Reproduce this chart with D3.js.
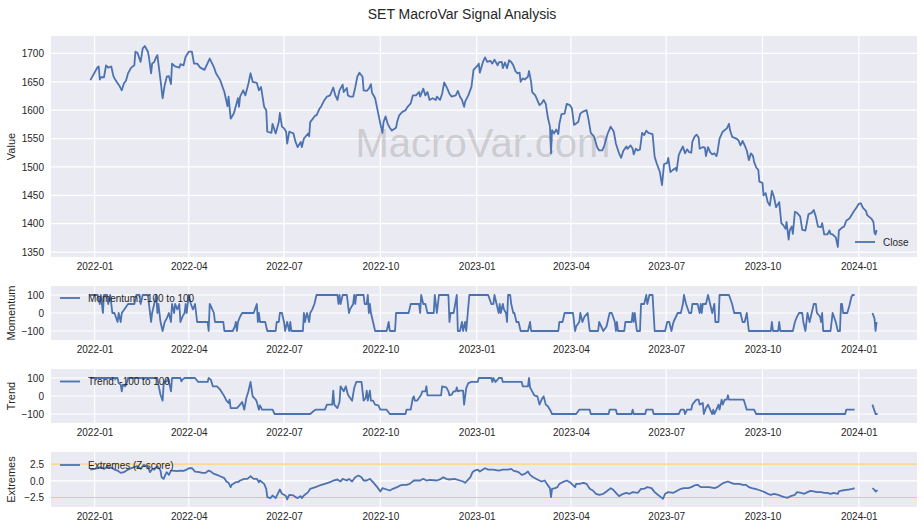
<!DOCTYPE html>
<html><head><meta charset="utf-8">
<script src="https://cdn.jsdelivr.net/npm/d3@7"></script>
<style>body{margin:0;background:#fff}svg{display:block}</style>
</head><body><svg id="c" width="924" height="530"></svg>
<script>
// ---------------- DATA ----------------
const chartTitle = "SET MacroVar Signal Analysis";
const watermark = "MacroVar.com";

const closeSeries = [
["2021-12-28",1653],["2022-01-04",1676],["2022-01-05",1677],["2022-01-06",1654],["2022-01-07",1658],["2022-01-10",1658],["2022-01-12",1679],["2022-01-14",1675],["2022-01-17",1677],["2022-01-19",1660],["2022-01-21",1653],["2022-01-25",1642],["2022-01-27",1635],["2022-01-29",1647],["2022-01-31",1652],["2022-02-02",1665],["2022-02-05",1675],["2022-02-08",1679],["2022-02-09",1703],["2022-02-11",1701],["2022-02-14",1685],["2022-02-16",1709],["2022-02-18",1713],["2022-02-21",1703],["2022-02-22",1693],["2022-02-24",1665],["2022-02-25",1682],["2022-02-27",1685],["2022-03-01",1694],["2022-03-02",1697],["2022-03-03",1682],["2022-03-05",1653],["2022-03-07",1621],["2022-03-09",1644],["2022-03-11",1659],["2022-03-13",1660],["2022-03-15",1646],["2022-03-16",1682],["2022-03-19",1677],["2022-03-23",1675],["2022-03-24",1681],["2022-03-27",1679],["2022-03-29",1694],["2022-04-01",1703],["2022-04-04",1703],["2022-04-06",1682],["2022-04-09",1682],["2022-04-12",1675],["2022-04-16",1671],["2022-04-21",1691],["2022-04-25",1676],["2022-04-27",1665],["2022-05-01",1653],["2022-05-05",1632],["2022-05-08",1607],["2022-05-09",1624],["2022-05-11",1585],["2022-05-14",1594],["2022-05-18",1621],["2022-05-19",1606],["2022-05-20",1624],["2022-05-23",1635],["2022-05-25",1626],["2022-05-28",1647],["2022-05-30",1665],["2022-06-01",1650],["2022-06-05",1648],["2022-06-07",1635],["2022-06-09",1641],["2022-06-12",1606],["2022-06-14",1600],["2022-06-15",1562],["2022-06-19",1560],["2022-06-20",1576],["2022-06-23",1559],["2022-06-26",1579],["2022-06-27",1595],["2022-06-29",1571],["2022-07-01",1568],["2022-07-03",1562],["2022-07-04",1541],["2022-07-06",1562],["2022-07-10",1559],["2022-07-12",1544],["2022-07-14",1535],["2022-07-17",1544],["2022-07-18",1535],["2022-07-20",1550],["2022-07-24",1559],["2022-07-25",1554],["2022-07-26",1579],["2022-07-31",1591],["2022-08-01",1591],["2022-08-04",1603],
["2022-08-05",1605],["2022-08-08",1616],["2022-08-11",1624],["2022-08-14",1626],["2022-08-17",1640],["2022-08-19",1626],["2022-08-21",1618],["2022-08-23",1635],["2022-08-26",1645],["2022-08-27",1632],["2022-08-30",1639],["2022-08-31",1626],["2022-09-02",1624],["2022-09-05",1624],["2022-09-07",1640],["2022-09-09",1659],["2022-09-11",1666],["2022-09-14",1659],["2022-09-15",1635],["2022-09-18",1634],["2022-09-20",1638],["2022-09-22",1646],["2022-09-23",1631],["2022-09-26",1621],["2022-09-29",1594],["2022-10-01",1576],["2022-10-03",1560],["2022-10-04",1579],["2022-10-06",1589],["2022-10-08",1576],["2022-10-10",1569],["2022-10-12",1564],["2022-10-16",1569],["2022-10-17",1579],["2022-10-19",1591],["2022-10-22",1597],["2022-10-25",1600],["2022-10-27",1606],["2022-10-30",1612],["2022-11-01",1626],["2022-11-04",1626],["2022-11-07",1632],["2022-11-08",1624],["2022-11-11",1638],["2022-11-13",1626],["2022-11-15",1632],["2022-11-17",1618],["2022-11-20",1621],["2022-11-23",1618],["2022-11-24",1624],["2022-11-27",1618],["2022-11-29",1629],["2022-12-01",1649],["2022-12-04",1638],["2022-12-06",1629],["2022-12-08",1624],["2022-12-12",1626],["2022-12-14",1634],["2022-12-16",1624],["2022-12-18",1618],["2022-12-20",1606],["2022-12-21",1615],["2022-12-24",1626],["2022-12-27",1641],["2022-12-29",1671],
["2023-01-02",1679],["2023-01-03",1682],["2023-01-04",1666],["2023-01-07",1685],["2023-01-09",1693],["2023-01-11",1685],["2023-01-14",1687],["2023-01-16",1682],["2023-01-18",1689],["2023-01-21",1679],["2023-01-22",1684],["2023-01-25",1685],["2023-01-26",1674],["2023-01-28",1684],["2023-01-30",1674],["2023-02-01",1688],["2023-02-03",1685],["2023-02-05",1679],["2023-02-07",1669],["2023-02-09",1665],["2023-02-11",1666],["2023-02-12",1650],["2023-02-14",1656],["2023-02-16",1654],["2023-02-19",1659],["2023-02-20",1669],["2023-02-22",1650],["2023-02-23",1632],["2023-02-26",1626],["2023-03-02",1609],["2023-03-04",1612],["2023-03-06",1618],["2023-03-08",1611],["2023-03-10",1587],["2023-03-12",1571],["2023-03-13",1524],["2023-03-14",1565],["2023-03-16",1559],["2023-03-18",1566],["2023-03-20",1558],["2023-03-21",1576],["2023-03-23",1593],["2023-03-26",1594],["2023-03-28",1611],["2023-03-31",1609],["2023-04-02",1603],["2023-04-04",1574],["2023-04-08",1579],["2023-04-10",1594],["2023-04-12",1597],["2023-04-16",1600],["2023-04-18",1582],["2023-04-20",1560],["2023-04-23",1554],["2023-04-26",1535],["2023-04-28",1529],["2023-05-01",1529],["2023-05-03",1538],["2023-05-06",1558],["2023-05-09",1571],["2023-05-12",1562],["2023-05-14",1541],["2023-05-17",1524],["2023-05-19",1516],["2023-05-21",1528],["2023-05-24",1536],["2023-05-25",1532],["2023-05-28",1538],["2023-05-30",1532],["2023-05-31",1522],["2023-06-02",1532],["2023-06-04",1529],["2023-06-06",1531],["2023-06-08",1560],["2023-06-10",1556],["2023-06-12",1564],["2023-06-14",1560],["2023-06-18",1558],["2023-06-20",1518],["2023-06-22",1506],["2023-06-25",1491],["2023-06-27",1468],["2023-06-29",1505],["2023-07-02",1507],["2023-07-03",1516],["2023-07-05",1491],["2023-07-07",1494],["2023-07-10",1498],["2023-07-11",1493],["2023-07-13",1521],["2023-07-15",1529],["2023-07-17",1536],["2023-07-19",1524],["2023-07-21",1531],["2023-07-23",1526],["2023-07-25",1525],["2023-07-26",1544],["2023-07-28",1553],["2023-07-30",1557],["2023-08-01",1552],["2023-08-02",1532],["2023-08-05",1535],["2023-08-07",1534],["2023-08-08",1519],["2023-08-10",1535],["2023-08-12",1526],["2023-08-14",1522],["2023-08-16",1524],["2023-08-18",1519],["2023-08-19",1526],["2023-08-21",1550],["2023-08-24",1562],["2023-08-26",1565],["2023-08-28",1568],["2023-08-30",1576],["2023-08-31",1565],["2023-09-02",1553],["2023-09-06",1550],["2023-09-08",1547],["2023-09-10",1538],["2023-09-12",1546],["2023-09-14",1538],["2023-09-16",1529],["2023-09-18",1512],["2023-09-20",1524],["2023-09-22",1519],["2023-09-23",1509],["2023-09-25",1499],["2023-09-27",1495],["2023-09-28",1474],["2023-10-01",1472],["2023-10-02",1450],["2023-10-04",1454],["2023-10-06",1438],["2023-10-08",1432],["2023-10-10",1458],["2023-10-12",1447],["2023-10-14",1429],["2023-10-17",1438],["2023-10-19",1401],["2023-10-21",1397],["2023-10-23",1391],["2023-10-24",1403],["2023-10-26",1372],["2023-10-27",1388],["2023-10-29",1395],["2023-10-30",1382],["2023-11-01",1421],["2023-11-03",1419],["2023-11-06",1413],["2023-11-08",1389],["2023-11-11",1388],["2023-11-14",1417],["2023-11-17",1419],["2023-11-19",1424],["2023-11-21",1412],["2023-11-23",1395],["2023-11-26",1394],["2023-11-27",1401],["2023-11-29",1381],["2023-12-02",1381],["2023-12-04",1388],["2023-12-05",1382],["2023-12-07",1381],["2023-12-10",1376],["2023-12-12",1359],["2023-12-13",1388],["2023-12-16",1393],["2023-12-18",1395],["2023-12-20",1405],["2023-12-23",1409],["2023-12-25",1415],["2023-12-27",1421],["2023-12-30",1429],["2024-01-01",1435],["2024-01-03",1436],["2024-01-05",1428],["2024-01-08",1422],["2024-01-09",1415],["2024-01-11",1412],["2024-01-13",1409],["2024-01-15",1403],["2024-01-16",1384],["2024-01-17",1381],["2024-01-18",1389]
];

const momentumSeries = [
["2021-12-28",100],["2022-01-04",100],["2022-01-06",50],["2022-01-07",100],["2022-01-09",0],["2022-01-10",100],["2022-01-13",100],["2022-01-14",50],["2022-01-16",100],["2022-01-18",0],["2022-01-20",0],["2022-01-23",-50],["2022-01-24",0],["2022-01-26",-50],["2022-01-27",0],["2022-01-30",25],["2022-02-02",50],["2022-02-08",50],["2022-02-10",100],["2022-02-13",100],["2022-02-14",50],["2022-02-16",100],["2022-02-21",100],["2022-02-22",50],["2022-02-24",-50],["2022-02-25",0],["2022-02-27",50],["2022-03-01",100],["2022-03-02",0],["2022-03-03",50],["2022-03-05",-50],["2022-03-07",-100],["2022-03-09",-50],["2022-03-11",-30],["2022-03-13",0],["2022-03-15",-50],["2022-03-16",50],["2022-03-18",0],["2022-03-19",50],["2022-03-21",20],["2022-03-23",50],["2022-03-24",-50],["2022-03-26",-20],["2022-03-28",0],["2022-03-29",50],["2022-03-30",0],["2022-04-01",100],["2022-04-03",50],["2022-04-05",20],["2022-04-07",50],["2022-04-09",-50],["2022-04-19",-50],["2022-04-20",-100],["2022-04-21",50],["2022-04-22",40],["2022-04-25",0],["2022-04-26",-50],["2022-05-04",-50],["2022-05-05",-100],["2022-05-13",-100],["2022-05-15",-75],["2022-05-16",-50],["2022-05-17",-100],["2022-05-18",-50],["2022-05-20",-20],["2022-05-22",0],["2022-06-02",0],["2022-06-05",50],["2022-06-06",-50],["2022-06-07",0],["2022-06-08",-50],["2022-06-13",-50],["2022-06-15",-100],["2022-06-23",-100],["2022-06-24",-50],["2022-06-26",-50],["2022-06-27",0],["2022-06-29",0],["2022-07-01",-50],["2022-07-02",-100],["2022-07-03",-75],["2022-07-04",-50],["2022-07-06",-100],["2022-07-07",-50],["2022-07-08",-100],["2022-07-19",-100],["2022-07-20",0],["2022-07-21",-50],["2022-07-22",-20],["2022-07-23",0],["2022-07-25",-50],["2022-07-26",0],["2022-07-28",20],["2022-07-30",50],["2022-08-01",100],["2022-08-21",100],["2022-08-22",50],["2022-08-23",100],["2022-08-24",50],["2022-08-26",100],["2022-08-30",100],["2022-09-01",0],["2022-09-02",20],["2022-09-05",50],["2022-09-06",100],["2022-09-07",50],["2022-09-08",100],["2022-09-15",100],["2022-09-16",50],["2022-09-18",50],["2022-09-19",100],["2022-09-20",0],["2022-09-21",50],["2022-09-22",0],["2022-09-24",-50],["2022-09-26",-100],["2022-10-07",-100],["2022-10-09",-50],["2022-10-10",-100],["2022-10-15",-100],["2022-10-16",0],["2022-10-28",0],["2022-10-30",50],["2022-11-07",50],["2022-11-08",0],["2022-11-09",100],["2022-11-11",50],["2022-11-13",50],["2022-11-15",0],["2022-11-21",0],["2022-11-22",100],["2022-11-24",0],["2022-11-26",100],["2022-12-05",100],["2022-12-06",-50],["2022-12-07",0],["2022-12-10",0],["2022-12-13",100],["2022-12-14",-100],["2022-12-16",-100],["2022-12-18",-50],["2022-12-19",-100],["2022-12-21",-50],["2022-12-22",-100],["2022-12-25",100],["2023-01-12",100],["2023-01-15",50],["2023-01-17",50],["2023-01-18",100],["2023-01-20",50],["2023-01-22",0],["2023-01-23",50],["2023-01-24",0],["2023-01-26",50],["2023-01-27",20],["2023-01-29",0],["2023-01-30",-50],["2023-01-31",100],["2023-02-02",100],["2023-02-03",50],["2023-02-05",0],["2023-02-06",0],["2023-02-08",-50],["2023-02-10",-50],["2023-02-12",-100],["2023-02-19",-100],["2023-02-21",-50],["2023-02-22",-100],["2023-03-20",-100],["2023-03-21",-50],["2023-03-24",-50],["2023-03-26",0],["2023-04-03",0],["2023-04-05",-100],["2023-04-06",-75],["2023-04-09",-50],["2023-04-10",0],["2023-04-12",-50],["2023-04-14",-20],["2023-04-17",0],["2023-04-19",-100],["2023-04-27",-100],["2023-04-28",-50],["2023-04-30",-75],["2023-05-02",-100],["2023-05-05",-75],["2023-05-08",0],["2023-05-10",0],["2023-05-13",-50],["2023-05-14",-100],["2023-05-15",-50],["2023-05-16",-100],["2023-05-22",-100],["2023-05-23",-50],["2023-05-29",-50],["2023-05-30",0],["2023-05-31",-50],["2023-06-01",0],["2023-06-02",-50],["2023-06-03",-100],["2023-06-06",-100],["2023-06-07",50],["2023-06-10",50],["2023-06-11",75],["2023-06-12",100],["2023-06-13",50],["2023-06-15",100],["2023-06-18",100],["2023-06-20",-100],["2023-06-30",-100],["2023-07-02",-50],["2023-07-04",-50],["2023-07-06",-100],["2023-07-08",-50],["2023-07-12",0],["2023-07-15",0],["2023-07-17",50],["2023-07-18",100],["2023-07-20",50],["2023-07-23",0],["2023-07-25",0],["2023-07-26",50],["2023-07-31",50],["2023-08-02",0],["2023-08-03",50],["2023-08-04",0],["2023-08-05",50],["2023-08-08",50],["2023-08-10",100],["2023-08-12",50],["2023-08-14",0],["2023-08-16",50],["2023-08-17",-50],["2023-08-20",-50],["2023-08-21",100],["2023-08-30",100],["2023-09-02",50],["2023-09-04",0],["2023-09-10",0],["2023-09-12",-50],["2023-09-14",-50],["2023-09-16",0],["2023-09-18",-100],["2023-10-09",-100],["2023-10-10",-50],["2023-10-11",-100],["2023-10-16",-100],["2023-10-17",-50],["2023-10-18",-100],["2023-10-30",-100],["2023-11-01",-50],["2023-11-03",-20],["2023-11-05",0],["2023-11-08",0],["2023-11-09",-50],["2023-11-11",-100],["2023-11-13",0],["2023-11-15",-50],["2023-11-17",0],["2023-11-19",50],["2023-11-21",50],["2023-11-22",0],["2023-11-25",-20],["2023-11-26",-50],["2023-11-27",0],["2023-11-28",-100],["2023-12-05",-100],["2023-12-07",0],["2023-12-10",-50],["2023-12-12",-100],["2023-12-14",-100],["2023-12-15",50],["2023-12-16",50],["2023-12-17",0],["2023-12-21",0],["2023-12-23",40],["2023-12-25",90],["2023-12-26",100],["2023-12-28",100],["2024-01-05",null],["2024-01-14",0],["2024-01-16",-30],["2024-01-17",-100],["2024-01-18",-50]
];

const trendSeries = [
["2021-12-28",100],["2022-01-23",100],["2022-01-24",72],["2022-01-26",63],["2022-01-27",26],["2022-01-28",63],["2022-01-30",54],["2022-01-31",59],["2022-02-02",100],["2022-03-02",100],["2022-03-03",63],["2022-03-05",7],["2022-03-07",-26],["2022-03-08",63],["2022-03-09",81],["2022-03-11",81],["2022-03-12",100],["2022-03-13",81],["2022-03-15",26],["2022-03-16",100],["2022-03-24",100],["2022-03-25",81],["2022-03-26",91],["2022-03-28",100],["2022-04-07",100],["2022-04-10",78],["2022-04-19",78],["2022-04-20",100],["2022-04-22",91],["2022-04-24",54],["2022-04-28",54],["2022-05-01",35],["2022-05-05",-2],["2022-05-07",-26],["2022-05-09",-39],["2022-05-10",-20],["2022-05-11",-67],["2022-05-17",-67],["2022-05-20",-48],["2022-05-22",-33],["2022-05-24",-76],["2022-05-26",-11],["2022-05-28",26],["2022-05-30",78],["2022-06-01",-2],["2022-06-04",-20],["2022-06-05",-33],["2022-06-07",-76],["2022-06-08",-52],["2022-06-10",-76],["2022-06-20",-76],["2022-06-22",-100],["2022-07-26",-100],["2022-07-29",-85],["2022-07-31",-76],["2022-08-09",-76],["2022-08-11",-48],["2022-08-16",-48],["2022-08-17",30],["2022-08-18",-48],["2022-08-21",-67],["2022-08-23",-33],["2022-08-24",54],["2022-08-27",26],["2022-08-29",54],["2022-08-31",7],["2022-09-04",-26],["2022-09-06",44],["2022-09-08",78],["2022-09-13",78],["2022-09-15",-26],["2022-09-17",-11],["2022-09-18",30],["2022-09-19",-26],["2022-09-21",30],["2022-09-22",-26],["2022-09-24",-26],["2022-09-26",-48],["2022-09-29",-52],["2022-10-01",-76],["2022-10-07",-76],["2022-10-10",-100],["2022-10-25",-100],["2022-10-26",-76],["2022-10-30",-76],["2022-11-01",-11],["2022-11-02",-2],["2022-11-03",-26],["2022-11-05",-26],["2022-11-09",7],["2022-11-10",26],["2022-11-13",26],["2022-11-14",54],["2022-11-15",4],["2022-11-28",4],["2022-11-29",54],["2022-12-03",48],["2022-12-05",26],["2022-12-06",4],["2022-12-08",7],["2022-12-10",26],["2022-12-12",26],["2022-12-13",48],["2022-12-14",26],["2022-12-16",30],["2022-12-19",30],["2022-12-20",-48],["2022-12-22",44],["2022-12-24",72],["2022-12-27",78],["2023-01-02",78],["2023-01-03",100],["2023-01-15",100],["2023-01-16",78],["2023-01-17",100],["2023-01-19",78],["2023-01-21",91],["2023-01-22",100],["2023-01-25",100],["2023-01-26",78],["2023-02-13",78],["2023-02-14",54],["2023-02-19",54],["2023-02-20",100],["2023-02-21",48],["2023-02-23",26],["2023-02-25",4],["2023-02-28",-2],["2023-03-02",-48],["2023-03-04",-20],["2023-03-06",-2],["2023-03-08",-48],["2023-03-10",-57],["2023-03-12",-76],["2023-03-14",-100],["2023-04-06",-100],["2023-04-09",-76],["2023-04-19",-76],["2023-04-20",-100],["2023-05-07",-100],["2023-05-08",-76],["2023-05-14",-76],["2023-05-15",-100],["2023-05-29",-100],["2023-05-30",-76],["2023-05-31",-100],["2023-06-11",-100],["2023-06-12",-76],["2023-06-18",-76],["2023-06-19",-100],["2023-07-13",-100],["2023-07-15",-76],["2023-07-18",-76],["2023-07-19",-100],["2023-07-21",-76],["2023-07-25",-76],["2023-07-26",-48],["2023-07-28",-33],["2023-07-30",-20],["2023-08-01",-20],["2023-08-02",-48],["2023-08-05",-39],["2023-08-06",-100],["2023-08-08",-67],["2023-08-10",-48],["2023-08-12",-76],["2023-08-14",-100],["2023-08-15",-76],["2023-08-16",-100],["2023-08-18",-76],["2023-08-20",-48],["2023-08-21",-76],["2023-08-23",-20],["2023-08-24",-48],["2023-08-26",-20],["2023-08-28",-20],["2023-08-29",4],["2023-08-30",-20],["2023-09-13",-20],["2023-09-16",-76],["2023-09-23",-76],["2023-09-25",-100],["2023-12-19",-100],["2023-12-20",-76],["2023-12-28",-76],["2024-01-05",null],["2024-01-14",-48],["2024-01-17",-100],["2024-01-19",-100]
];

const extremesSeries = [
["2021-12-28",1.68],["2022-01-01",1.78],["2022-01-04",1.88],["2022-01-07",2.03],["2022-01-10",1.78],["2022-01-13",2.08],["2022-01-17",1.98],["2022-01-20",1.68],["2022-01-23",1.53],["2022-01-26",1.19],["2022-01-29",1.29],["2022-02-02",1.68],["2022-02-05",1.88],["2022-02-08",2.03],["2022-02-11",2.18],["2022-02-14",1.78],["2022-02-17",2.38],["2022-02-21",2.03],["2022-02-23",1.29],["2022-02-25",1.78],["2022-02-27",1.68],["2022-03-02",2.18],["2022-03-05",1.53],["2022-03-06",0.54],["2022-03-08",0.30],["2022-03-10",1.04],["2022-03-11",1.29],["2022-03-13",0.89],["2022-03-15",1.53],["2022-03-16",1.53],["2022-03-21",1.44],["2022-03-24",1.53],["2022-03-27",1.49],["2022-03-30",1.68],["2022-04-01",1.88],["2022-04-04",1.88],["2022-04-07",1.39],["2022-04-11",1.29],["2022-04-14",1.19],["2022-04-17",1.19],["2022-04-20",1.53],["2022-04-22",1.39],["2022-04-25",1.04],["2022-04-28",0.89],["2022-05-01",0.69],["2022-05-05",0.40],["2022-05-07",-0.10],["2022-05-09",-0.30],["2022-05-11",-0.94],["2022-05-12",-0.59],["2022-05-16",-0.20],["2022-05-18",-0.20],["2022-05-20",0.05],["2022-05-24",0.30],["2022-05-27",0.30],["2022-05-30",0.69],["2022-06-02",0.30],["2022-06-05",0.30],["2022-06-07",-0.20],["2022-06-08",0.05],["2022-06-12",-0.45],["2022-06-14",-1.19],["2022-06-15",-2.43],["2022-06-18",-2.57],["2022-06-20",-2.18],["2022-06-23",-2.57],["2022-06-25",-1.93],["2022-06-27",-1.29],["2022-06-29",-1.93],["2022-07-01",-2.08],["2022-07-03",-2.28],["2022-07-04",-2.77],["2022-07-06",-2.08],["2022-07-10",-2.18],["2022-07-12",-2.43],["2022-07-14",-2.57],["2022-07-17",-2.28],["2022-07-18",-2.57],["2022-07-20",-2.18],["2022-07-24",-1.68],["2022-07-26",-1.19],["2022-07-31",-0.94],["2022-08-04",-0.69],["2022-08-09",-0.45],["2022-08-14",-0.20],["2022-08-17",0.05],["2022-08-21",0.20],["2022-08-24",-0.10],["2022-08-26",0.30],["2022-08-30",0.05],["2022-09-01",0.30],["2022-09-04",-0.10],["2022-09-07",0.54],["2022-09-10",0.79],["2022-09-13",0.54],["2022-09-15",0.05],["2022-09-18",0.05],["2022-09-21",0.30],["2022-09-24",-0.20],["2022-09-28",-0.94],["2022-10-01",-1.58],["2022-10-03",-1.09],["2022-10-07",-1.29],["2022-10-10",-1.44],["2022-10-13",-1.19],["2022-10-17",-0.94],["2022-10-20",-0.69],["2022-10-23",-0.59],["2022-10-26",-0.59],["2022-10-29",-0.45],["2022-11-02",0.05],["2022-11-08",0.05],["2022-11-11",0.30],["2022-11-14",0.05],["2022-11-17",0.15],["2022-11-24",0.05],["2022-11-28",0.30],["2022-11-30",0.54],["2022-12-03",0.30],["2022-12-06",0.20],["2022-12-11",0.30],["2022-12-16",0.05],["2022-12-19",-0.10],["2022-12-21",-0.30],["2022-12-23",0.05],["2022-12-26",0.54],["2022-12-28",1.29],["2022-12-30",1.53],["2023-01-02",1.68],["2023-01-04",1.39],["2023-01-07",1.68],["2023-01-09",1.88],["2023-01-12",1.68],["2023-01-17",1.68],["2023-01-22",1.53],["2023-01-26",1.68],["2023-01-31",1.68],["2023-02-03",1.78],["2023-02-05",1.53],["2023-02-10",1.29],["2023-02-13",0.89],["2023-02-16",1.04],["2023-02-19",1.39],["2023-02-21",0.89],["2023-02-24",0.54],["2023-02-28",0.20],["2023-03-04",-0.10],["2023-03-07",0.05],["2023-03-09",-0.45],["2023-03-12",-1.09],["2023-03-13",-2.43],["2023-03-14",-1.19],["2023-03-17",-1.09],["2023-03-19",-0.94],["2023-03-21",-0.45],["2023-03-24",-0.20],["2023-03-28",0.05],["2023-03-31",-0.20],["2023-04-05",-0.94],["2023-04-06",-0.45],["2023-04-09",-0.45],["2023-04-13",-0.30],["2023-04-16",-0.45],["2023-04-19",-1.19],["2023-04-22",-1.44],["2023-04-25",-1.93],["2023-04-28",-2.08],["2023-05-02",-1.93],["2023-05-05",-1.58],["2023-05-09",-1.09],["2023-05-11",-1.29],["2023-05-14",-1.78],["2023-05-17",-2.28],["2023-05-21",-1.93],["2023-05-24",-1.78],["2023-05-27",-1.93],["2023-05-30",-1.68],["2023-06-04",-1.78],["2023-06-07",-1.19],["2023-06-10",-1.19],["2023-06-13",-0.94],["2023-06-17",-1.09],["2023-06-20",-1.68],["2023-06-23",-2.08],["2023-06-26",-2.43],["2023-06-28",-2.67],["2023-06-30",-1.93],["2023-07-03",-1.68],["2023-07-08",-1.78],["2023-07-12",-1.44],["2023-07-15",-1.19],["2023-07-18",-1.09],["2023-07-22",-1.09],["2023-07-25",-0.94],["2023-07-28",-0.69],["2023-07-31",-0.59],["2023-08-03",-0.94],["2023-08-06",-0.94],["2023-08-11",-0.94],["2023-08-16",-1.09],["2023-08-19",-0.94],["2023-08-22",-0.59],["2023-08-25",-0.30],["2023-08-29",-0.10],["2023-09-01",-0.30],["2023-09-04",-0.45],["2023-09-09",-0.45],["2023-09-12",-0.59],["2023-09-15",-0.59],["2023-09-18",-0.94],["2023-09-21",-1.09],["2023-09-26",-1.29],["2023-09-29",-1.44],["2023-10-03",-1.68],["2023-10-06",-1.93],["2023-10-09",-2.08],["2023-10-12",-1.93],["2023-10-16",-2.08],["2023-10-19",-2.28],["2023-10-22",-2.43],["2023-10-25",-2.52],["2023-10-28",-2.28],["2023-11-01",-2.08],["2023-11-03",-1.68],["2023-11-07",-1.78],["2023-11-10",-1.93],["2023-11-13",-1.68],["2023-11-16",-1.49],["2023-11-19",-1.58],["2023-11-22",-1.68],["2023-11-26",-1.68],["2023-11-29",-1.78],["2023-12-02",-1.78],["2023-12-05",-1.93],["2023-12-08",-1.78],["2023-12-12",-1.93],["2023-12-13",-1.58],["2023-12-16",-1.44],["2023-12-20",-1.34],["2023-12-23",-1.29],["2023-12-26",-1.19],["2023-12-28",-1.09],["2024-01-05",null],["2024-01-14",-1.09],["2024-01-16",-1.34],["2024-01-17",-1.58],["2024-01-19",-1.39]
];

const xTickLabels = ["2022-01","2022-04","2022-07","2022-10","2023-01","2023-04","2023-07","2023-10","2024-01"];
const closeTicks = [1350,1400,1450,1500,1550,1600,1650,1700];
const signalTicks = [-100,0,100];
const signalRange = [-150,150];
const extremeTicks = [-2.5,0,2.5];
const extremeRange = [-3.9,4.3];
const extremeThresholds = [2.5,-2.5];

// ---------------- CHART ----------------
const FONT = "'Liberation Sans', Arial, 'DejaVu Sans', sans-serif";
const TXT = "#262626";
const BLUE = "#4C72B0";
const BG = "#EAEAF2";
const svg = d3.select("#c");
const parse = d3.timeParse("%Y-%m-%d");
const parseM = d3.timeParse("%Y-%m");
const toPts = s => s.map(([d,v]) => ({d: parse(d), v}));

const closePts = toPts(closeSeries), momPts = toPts(momentumSeries),
      trendPts = toPts(trendSeries), extPts = toPts(extremesSeries);

const allDates = [closePts, momPts, trendPts, extPts].flat().map(p => p.d);
const [d0, d1] = d3.extent(allDates);
const span = d1 - d0;
const L = 51, R = 917;
const x = d3.scaleTime().domain([new Date(+d0 - span*0.05), new Date(+d1 + span*0.05)]).range([L, R]);
const xTicks = xTickLabels.map(parseM);

const cExt = d3.extent(closePts, p => p.v);
const cPad = (cExt[1]-cExt[0])*0.05;

const panels = [
  {pts: closePts, top: 36, bottom: 257, domain: [cExt[0]-cPad, cExt[1]+cPad], ticks: closeTicks, fmt: d3.format("d"), label: "Value",
   legend: {name: "Close", x: 855, y: 242}},
  {pts: momPts, top: 286, bottom: 340, domain: signalRange, ticks: signalTicks, fmt: d3.format("d"), label: "Momentum",
   legend: {name: "Momentum: -100 to 100", x: 60, y: 298}},
  {pts: trendPts, top: 369, bottom: 423, domain: signalRange, ticks: signalTicks, fmt: d3.format("d"), label: "Trend",
   legend: {name: "Trend: -100 to 100", x: 60, y: 381.5}},
  {pts: extPts, top: 452, bottom: 507, domain: extremeRange, ticks: extremeTicks, fmt: d3.format(".1f"), label: "Extremes",
   legend: {name: "Extremes (Z-score)", x: 60, y: 465}, thresholds: extremeThresholds}
];

svg.append("text").attr("x", 462).attr("y", 19).attr("text-anchor", "middle")
  .style("font-family", FONT).style("font-size", "14px").attr("fill", TXT).text(chartTitle);

panels.forEach((p, i) => {
  const y = d3.scaleLinear().domain(p.domain).range([p.bottom, p.top]);
  const g = svg.append("g");
  g.append("rect").attr("x", L).attr("y", p.top).attr("width", R-L).attr("height", p.bottom-p.top).attr("fill", BG);

  // grid
  g.append("g").selectAll("line").data(xTicks).join("line")
    .attr("x1", d => x(d)).attr("x2", d => x(d)).attr("y1", p.top).attr("y2", p.bottom)
    .attr("stroke", "#fff").attr("stroke-width", 1.2);
  g.append("g").selectAll("line").data(p.ticks).join("line")
    .attr("x1", L).attr("x2", R).attr("y1", d => y(d)).attr("y2", d => y(d))
    .attr("stroke", "#fff").attr("stroke-width", 1.2);

  // axes
  const xa = g.append("g").attr("transform", `translate(0,${p.bottom})`)
    .call(d3.axisBottom(x).tickValues(xTicks).tickFormat(d3.timeFormat("%Y-%m")).tickSize(0).tickPadding(6));
  const ya = g.append("g").attr("transform", `translate(${L},0)`)
    .call(d3.axisLeft(y).tickValues(p.ticks).tickFormat(p.fmt).tickSize(0).tickPadding(7));
  [xa, ya].forEach(a => {
    a.select(".domain").remove();
    a.selectAll("text").style("font-family", FONT).style("font-size", "10px").attr("fill", TXT);
  });

  g.append("text").attr("transform", `translate(15,${(p.top+p.bottom)/2}) rotate(-90)`)
    .attr("text-anchor", "middle").style("font-family", FONT).style("font-size", "11px").attr("fill", TXT).text(p.label);

  const clipId = "clip" + i;
  svg.append("clipPath").attr("id", clipId).append("rect")
    .attr("x", L).attr("y", p.top).attr("width", R-L).attr("height", p.bottom-p.top);

  if (i === 0) {
    g.append("text").attr("x", 483).attr("y", 157).attr("text-anchor", "middle")
      .style("font-family", FONT).style("font-size", "40px").attr("fill", "gray").attr("fill-opacity", 0.3)
      .text(watermark);
  }

  if (p.thresholds) {
    g.append("g").selectAll("line").data(p.thresholds).join("line")
      .attr("x1", L).attr("x2", R).attr("y1", d => y(d)).attr("y2", d => y(d))
      .attr("stroke", "orange").attr("stroke-opacity", 0.7).attr("stroke-width", 1);
  }

  const line = d3.line().defined(d => d.v != null).x(d => x(d.d)).y(d => y(d.v));
  g.append("path").datum(p.pts).attr("clip-path", `url(#${clipId})`)
    .attr("d", line).attr("fill", "none").attr("stroke", BLUE).attr("stroke-width", 1.8)
    .attr("stroke-linejoin", "round");

  // legend (no frame)
  const lg = g.append("g");
  lg.append("line").attr("x1", p.legend.x).attr("x2", p.legend.x + 20).attr("y1", p.legend.y).attr("y2", p.legend.y)
    .attr("stroke", BLUE).attr("stroke-width", 1.8);
  lg.append("text").attr("x", p.legend.x + 28).attr("y", p.legend.y).attr("dy", "0.35em")
    .style("font-family", FONT).style("font-size", "10px").attr("fill", TXT).text(p.legend.name);
});
</script>
</body></html>
